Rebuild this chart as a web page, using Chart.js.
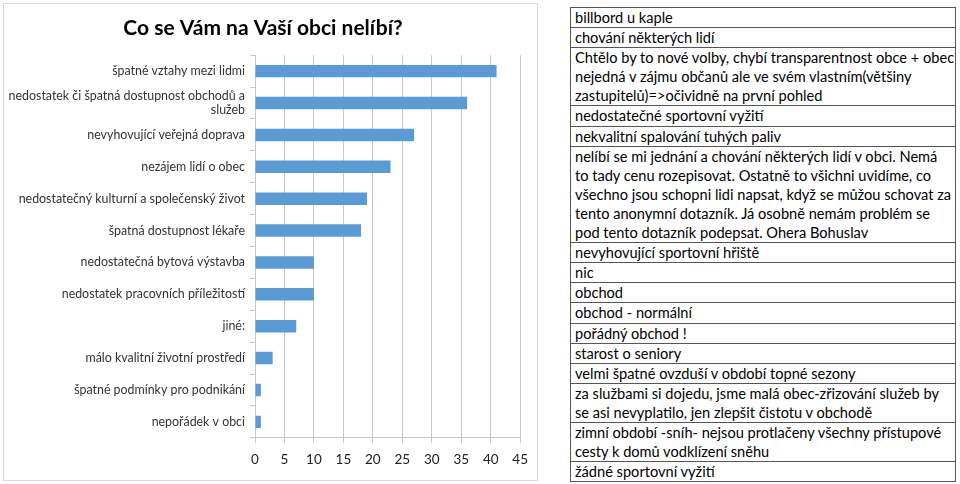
<!DOCTYPE html>
<html>
<head>
<meta charset="utf-8">
<script src="https://cdn.jsdelivr.net/npm/chart.js@4"></script>
<style>
  body { margin: 0; background: #fff; width: 960px; height: 484px; overflow: hidden; position: relative; }
  #chartBox { position: absolute; left: 3px; top: 3px; width: 535px; height: 478px; border: 1px solid #d9d9d9; box-sizing: border-box; }
  #otherTable { position: absolute; left: 570px; top: 7px; width: 386px; border-collapse: collapse; font-family: Lato, sans-serif; font-size: 14.6px; color: #000; }
  #otherTable td { border: 1px solid #555; padding: 0 0 0 4px; line-height: 19.1px; height: auto; white-space: pre; }
</style>
</head>
<body>
<div id="chartBox"><canvas id="chart"></canvas></div>
<table id="otherTable"></table>
<script>
const categories = [
  "špatné vztahy mezi lidmi",
  ["nedostatek či špatná dostupnost obchodů a", "služeb"],
  "nevyhovující veřejná doprava",
  "nezájem lidí o obec",
  "nedostatečný kulturní a společenský život",
  "špatná dostupnost lékaře",
  "nedostatečná bytová výstavba",
  "nedostatek pracovních příležitostí",
  "jiné:",
  "málo kvalitní životní prostředí",
  "špatné podmínky pro podnikání",
  "nepořádek v obci"
];
const counts = [41, 36, 27, 23, 19, 18, 10, 10, 7, 3, 1, 1];
const xTicks = [0, 5, 10, 15, 20, 25, 30, 35, 40, 45];

// answers given under "jiné:" (line breaks as in the sheet)
const otherAnswers = [
  "billbord u kaple",
  "chování některých lidí",
  "Chtělo by to nové volby, chybí transparentnost obce + obec\nnejedná v zájmu občanů ale ve svém vlastním(většiny\nzastupitelů)=>očividně na první pohled",
  "nedostatečné sportovní vyžití",
  "nekvalitní spalování tuhých paliv",
  "nelíbí se mi jednání a chování některých lidí v obci. Nemá\nto tady cenu rozepisovat. Ostatně to všichni uvidíme, co\nvšechno jsou schopni lidi napsat, když se můžou schovat za\ntento anonymní dotazník. Já osobně nemám problém se\npod tento dotazník podepsat. Ohera Bohuslav",
  "nevyhovující sportovní hřiště",
  "nic",
  "obchod",
  "obchod - normální",
  "pořádný obchod !",
  "starost o seniory",
  "velmi špatné ovzduší v období topné sezony",
  "za službami si dojedu, jsme malá obec-zřizování služeb by\nse asi nevyplatilo, jen zlepšit čistotu v obchodě",
  "zimní období -sníh- nejsou protlačeny všechny přístupové\ncesty k domů vodklízení sněhu",
  "žádné sportovní vyžití"
];

function fillTable() {
  const table = document.getElementById("otherTable");
  otherAnswers.forEach(function (txt) {
    const tr = document.createElement("tr");
    const td = document.createElement("td");
    td.textContent = txt;
    tr.appendChild(td);
    table.appendChild(tr);
  });
}

function initChart() {
  const ctx = document.getElementById("chart");
  new Chart(ctx, {
    type: "bar",
    data: {
      labels: categories,
      datasets: [{
        data: counts,
        backgroundColor: "#5b9bd5",
        borderWidth: 0,
        categoryPercentage: 1,
        barPercentage: 0.39
      }]
    },
    options: {
      indexAxis: "y",
      responsive: true,
      maintainAspectRatio: false,
      animation: false,
      devicePixelRatio: 1,
      layout: { padding: { left: 0, right: 15, top: 0, bottom: 3 } },
      plugins: {
        legend: { display: false },
        tooltip: { enabled: false },
        title: {
          display: true,
          text: "Co se Vám na Vaší obci nelíbí?",
          color: "#000",
          font: { family: "Lato", size: 21, weight: "bold" },
          padding: { top: 12, bottom: 14 }
        }
      },
      scales: {
        x: {
          min: 0,
          max: 45,
          afterBuildTicks: function (axis) {
            axis.ticks = xTicks.map(function (v) { return { value: v }; });
          },
          grid: { color: "#c8c8c8", tickLength: 5, drawTicks: true },
          border: { color: "#c8c8c8" },
          ticks: { color: "#222", font: { family: "Lato", size: 13.5 }, padding: 9 }
        },
        y: {
          afterFit: function (axis) { axis.width = 251; },
          grid: { drawOnChartArea: false, drawTicks: true, tickLength: 5, color: "#c8c8c8" },
          border: { color: "#c8c8c8" },
          ticks: {
            autoSkip: false,
            color: "#333",
            font: { family: "Lato", size: 12.4 },
            padding: 5
          }
        }
      }
    }
  });
}

fillTable();
initChart();
</script>
</body>
</html>
